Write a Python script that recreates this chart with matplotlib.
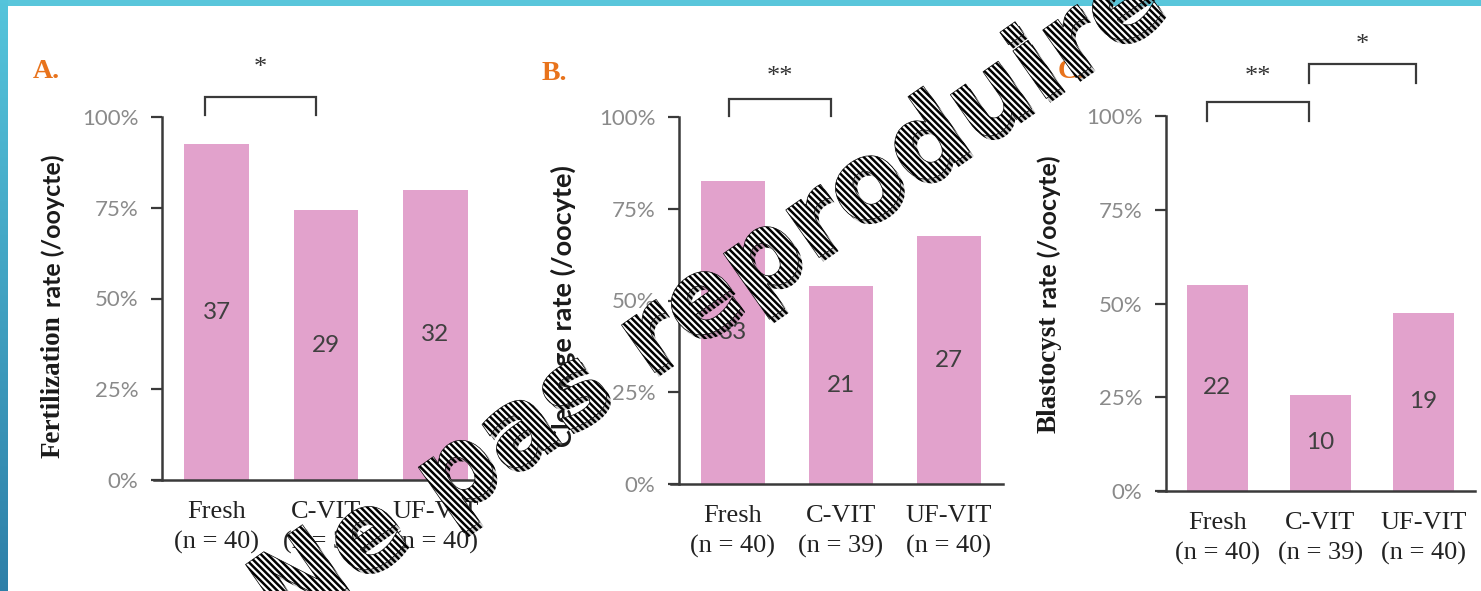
import numpy as np
import matplotlib.pyplot as plt
from matplotlib.textpath import TextPath
from matplotlib.patches import PathPatch
from matplotlib.font_manager import FontProperties
from matplotlib.transforms import Affine2D, IdentityTransform
import matplotlib.patheffects as pe

# Data: embryo counts per group and group sizes
groups = ["Fresh", "C-VIT", "UF-VIT"]
n_oocytes = [40, 39, 40]
fert_counts = [37, 29, 32]
cleav_counts = [33, 21, 27]
blast_counts = [22, 10, 19]
yticks = [0, 25, 50, 75, 100]
ytick_labels = ["0%", "25%", "50%", "75%", "100%"]

W, H = 1481, 591
DPI = 100
BAR_COLOR = "#e2a2cc"
TICK_GRAY = "#8a8a8a"
ORANGE = "#e8731c"

plt.rcParams["hatch.linewidth"] = 1.8

fig = plt.figure(figsize=(W / DPI, H / DPI), dpi=DPI)
fig.patch.set_facecolor("white")


def px_axes(left, right, bottom, top):
    # axes rectangle given in pixel coordinates (y measured from the top)
    return fig.add_axes([left / W, 1 - bottom / H, (right - left) / W, (bottom - top) / H])


def bracket(ax, x0, x1, y_top, y_leg, stars, y_star):
    ax.plot([x0, x0, x1, x1], [y_leg, y_top, y_top, y_leg], color="#3a3a3a",
            lw=1.6, clip_on=False, solid_joinstyle="miter")
    ax.text((x0 + x1) / 2, y_star, stars, ha="center", va="center",
            fontsize=19, color="#333333", family="Liberation Serif", clip_on=False)


def ylabel_two_part(x, y_bottom, serif_part, sans_part, serif_size=19.5, sans_size=18):
    # rotated y label made of a serif word followed by sans text
    r = fig.canvas.get_renderer()
    y = 1 - y_bottom / H
    if serif_part:
        t = fig.text(x / W, y, serif_part, rotation=90, ha="center", va="bottom",
                     fontsize=serif_size, fontweight="bold", family="Liberation Serif",
                     color="#1a1a1a")
        bb = t.get_window_extent(r)
        y = (bb.y1 + 8) / H
    fig.text(x / W, y, sans_part, rotation=90, ha="center", va="bottom",
             fontsize=sans_size, fontweight="bold", family="Lato", color="#1a1a1a")


def panel(ax, counts, label_color="#404040"):
    rates = [100 * c / n for c, n in zip(counts, n_oocytes)]
    x = np.arange(len(groups))
    ax.bar(x, rates, width=0.59, color=BAR_COLOR, zorder=2)
    for xi, r, c in zip(x, rates, counts):
        ax.text(xi, r / 2, str(c), ha="center", va="center", fontsize=17.5,
                family="Lato", color=label_color)
    ax.set_xlim(-0.5, 2.5)
    ax.set_ylim(0, 100)
    ax.set_yticks(yticks)
    ax.set_yticklabels(ytick_labels, family="Lato", fontsize=16, color=TICK_GRAY)
    ax.set_xticks(x)
    ax.set_xticklabels([f"{g}\n(n = {n})" for g, n in zip(groups, n_oocytes)],
                       family="Liberation Serif", fontsize=19, color="#222222",
                       linespacing=1.45)
    ax.tick_params(axis="x", length=0, pad=15)
    ax.tick_params(axis="y", length=8, width=1.6, color="#3a3a3a", pad=9, direction="out")
    for s in ["top", "right"]:
        ax.spines[s].set_visible(False)
    for s in ["left", "bottom"]:
        ax.spines[s].set_linewidth(1.8)
        ax.spines[s].set_color("#3a3a3a")
    ax.spines["bottom"].set_bounds(-0.5 - 8 / 109, 2.5)
    ax.patch.set_alpha(0)


# A. Fertilization
axA = px_axes(162, 490, 480, 117)
panel(axA, fert_counts)
bracket(axA, -0.11, 0.91, 105.5, 100.5, "*", 113.5)

# B. Cleavage
axB = px_axes(679, 1003, 484, 117)
panel(axB, cleav_counts)
bracket(axB, -0.04, 0.91, 104.9, 100.3, "**", 111.0)

# C. Blastocyst
axC = px_axes(1166, 1475, 491, 116)
panel(axC, blast_counts)
bracket(axC, -0.10, 0.89, 103.7, 98.7, "**", 110.5)
bracket(axC, 0.89, 1.93, 113.9, 108.8, "*", 119.0)

for txt, px, py in [("A.", 33, 72), ("B.", 542, 74), ("C.", 1058, 72)]:
    fig.text(px / W, 1 - py / H, txt, ha="left", va="center", fontsize=20,
             fontweight="bold", family="Liberation Serif", color=ORANGE)

ylabel_two_part(53, 458, "Fertilization", "rate (/ooycte)")
ylabel_two_part(563, 447, "", "Cleavage rate (/oocyte)", sans_size=19.5)
ylabel_two_part(1049, 433, "Blastocyst", "rate (/oocyte)")

# frame strips along the top and left edges
fig.figimage(np.ones((6, W, 3)) * np.array([0.35, 0.78, 0.86]), xo=0, yo=H - 6, zorder=5)
t = np.linspace(0, 1, H)[:, None]          # 0 at bottom row, 1 at top row
c_top = np.array([0.33, 0.77, 0.86])
c_bot = np.array([0.18, 0.50, 0.66])
left_img = (c_bot * (1 - t) + c_top * t)[:, None, :]
left_img = np.repeat(left_img, 8, axis=1)
fig.figimage(left_img, xo=0, yo=0, zorder=5, origin="lower")

# diagonal hatched watermark
fp = FontProperties(family="DejaVu Sans", weight="bold")
tp = TextPath((0, 0), "Ne pas reproduire", size=100, prop=fp)
ext = tp.get_extents()
scale = 1070 / ext.width
angle = 35
tr = Affine2D().translate(-ext.x0, 0).scale(scale).rotate_deg(angle).translate(290, H - 628)
path = tr.transform_path(tp)
wm = PathPatch(path, facecolor="white", edgecolor="black", lw=0.5, hatch="\\" * 5,
               transform=IdentityTransform(), zorder=10)
wm.set_path_effects([pe.SimplePatchShadow(offset=(3, -3), shadow_rgbFace="#888888", alpha=0.4),
                     pe.Normal()])
fig.add_artist(wm)

fig.savefig("out.png", dpi=DPI, facecolor="white")
